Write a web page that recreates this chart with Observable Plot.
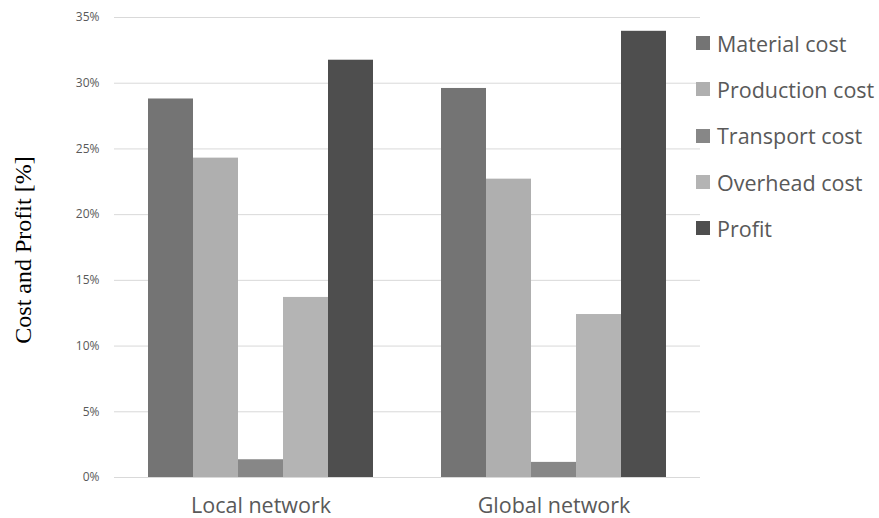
<!DOCTYPE html>
<html><head><meta charset="utf-8">
<script src="https://cdn.jsdelivr.net/npm/d3@7"></script>
<script src="https://cdn.jsdelivr.net/npm/@observablehq/plot@0.6"></script>
<style>
body{margin:0;background:#fff;overflow:hidden;}
#wrap{position:relative;width:879px;height:518px;font-family:"Open Sans",sans-serif;color:#595959;}
#wrap svg{position:absolute;left:0;top:0;overflow:visible;}
#ylabel{position:absolute;left:23px;top:250px;transform:translate(-50%,-50%) rotate(-90deg);white-space:nowrap;font-family:"Liberation Serif",serif;font-size:24px;color:#000;}
#legend{position:absolute;left:696px;top:20px;}
.item{display:flex;align-items:center;height:46.3px;font-size:21.5px;white-space:nowrap;}
.sw{width:14px;height:14px;margin-right:7px;flex:none;}
</style></head><body><div id="wrap"></div>
<script>
const networks = ["Local network", "Global network"];
const costTypes = ["Material cost", "Production cost", "Transport cost", "Overhead cost", "Profit"];
const localValues = [28.8, 24.3, 1.35, 13.7, 31.75];
const globalValues = [29.6, 22.7, 1.15, 12.4, 33.95];
const colors = ["#747474", "#afafaf", "#878787", "#b4b4b4", "#4e4e4e"];
const yTicks = [0, 5, 10, 15, 20, 25, 30, 35];
const yTitle = "Cost and Profit [%]";

const data = [];
networks.forEach((n, i) => costTypes.forEach((t, j) => data.push({network: n, type: t, value: (i ? globalValues : localValues)[j]})));

const chart = Plot.plot({
  width: 879, height: 518,
  marginLeft: 114, marginRight: 178, marginTop: 17, marginBottom: 41,
  style: {fontFamily: "Open Sans", fontSize: "12px", color: "#595959", background: "transparent"},
  facet: {data, x: "network"},
  fx: {domain: networks, paddingInner: 0.225, paddingOuter: 0.1125, label: null, axis: "bottom", tickSize: 0, tickPadding: 20},
  x: {domain: costTypes, padding: 0, axis: null},
  y: {domain: [0, 35], ticks: yTicks, tickFormat: d => d + "%", tickSize: 0, tickPadding: 48, label: null},
  color: {domain: costTypes, range: colors},
  marks: [
    Plot.ruleY(yTicks, {stroke: "#d9d9d9", strokeWidth: 1, insetLeft: -33, insetRight: -33}),
    Plot.barY(data, {x: "type", y: "value", fill: "type"})
  ]
});
d3.select(chart).selectAll("text").each(function() {
  const s = this.textContent;
  if (/%$/.test(s)) d3.select(this).style("font-size", "12px").style("fill", "#595959");
  else if (networks.includes(s)) d3.select(this).style("font-size", "21.5px").style("fill", "#595959");
});
const wrap = document.getElementById("wrap");
wrap.appendChild(chart);
const yl = document.createElement("div");
yl.id = "ylabel"; yl.textContent = yTitle; wrap.appendChild(yl);
const lg = document.createElement("div");
lg.id = "legend";
costTypes.forEach((t, i) => {
  const it = document.createElement("div"); it.className = "item";
  const sw = document.createElement("span"); sw.className = "sw"; sw.style.background = colors[i];
  const tx = document.createElement("span"); tx.textContent = t;
  it.appendChild(sw); it.appendChild(tx); lg.appendChild(it);
});
wrap.appendChild(lg);
</script></body></html>
